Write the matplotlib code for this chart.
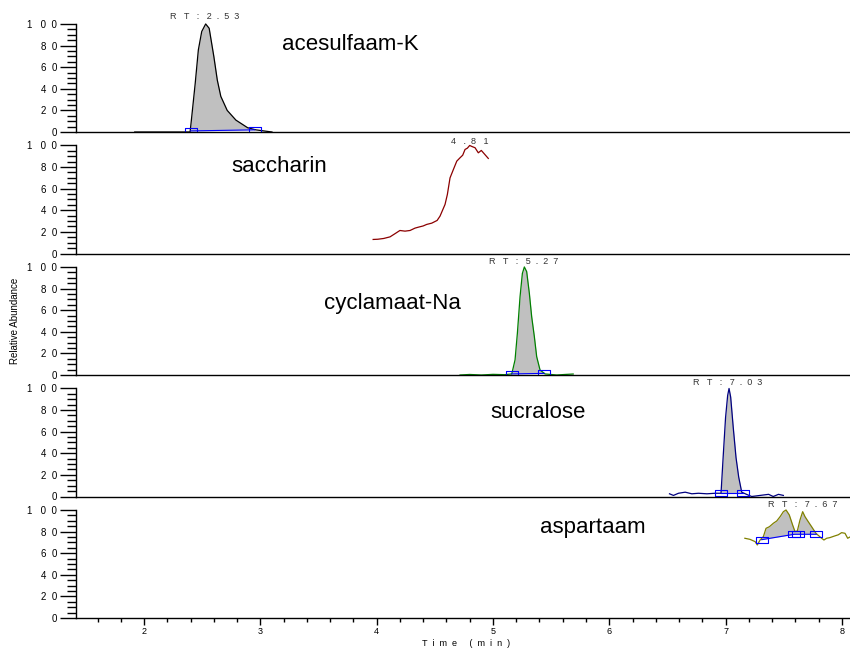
import numpy as np
import matplotlib
matplotlib.use("Agg")
import matplotlib.pyplot as plt
from matplotlib.path import Path

plt.rcParams["font.family"] = ["Liberation Sans", "DejaVu Sans"]

# ---- data (time in min, relative abundance) ----
ace_t = [1.92, 2.396, 2.41, 2.44, 2.467, 2.496, 2.53, 2.56, 2.60, 2.63, 2.66,
         2.715, 2.79, 2.89, 2.96, 3.10]
ace_v = [0, 0, 14, 45, 76, 93, 100, 96, 70, 48, 33, 20, 11, 4, 2, 0]
ace_base_t = [2.40, 2.95]
ace_base_v = [1, 2]

sac_t = [3.97, 4.01, 4.06, 4.115, 4.16, 4.20, 4.244, 4.287, 4.33, 4.36, 4.40,
         4.43, 4.474, 4.52, 4.545, 4.588, 4.608, 4.631, 4.66, 4.689, 4.717,
         4.74, 4.76, 4.78, 4.80, 4.82, 4.846, 4.874, 4.90, 4.93, 4.96]
sac_v = [13, 13.2, 13.9, 15.4, 18.5, 21.3, 20.7, 21.3, 23.5, 24.4, 25.5,
         26.9, 28.1, 30.6, 34.6, 45.4, 54.6, 70, 77.8, 85.5, 88.6,
         91, 96.3, 97.5, 100, 99, 97.9, 93.2, 95.4, 91.7, 88]

cyc_t = [4.717, 4.80, 4.90, 5.00, 5.10, 5.162, 5.19, 5.21, 5.233, 5.253, 5.27,
         5.29, 5.313, 5.333, 5.356, 5.376, 5.405, 5.448, 5.548, 5.62, 5.69]
cyc_v = [0, 0.5, 0, 0.6, 0.3, 1, 14, 38.6, 72.5, 94, 100,
         95.7, 75.6, 54, 35.5, 17, 4.6, 1, 0, 0.5, 0.9]
cyc_base_t = [5.16, 5.44]
cyc_base_v = [1, 1.5]

suc_t = [6.518, 6.552, 6.595, 6.653, 6.71, 6.767, 6.84, 6.91, 6.961, 6.981,
         7.0, 7.018, 7.03, 7.044, 7.066, 7.09, 7.113, 7.139, 7.18, 7.225,
         7.297, 7.37, 7.41, 7.455, 7.497]
suc_v = [2.5, 1, 3, 4, 2.5, 3, 2.5, 3, 3, 39.5,
         73, 93.5, 100, 92, 64, 36, 18, 4, 2, 0,
         1, 2, 0, 2, 1]
suc_base_t = [6.96, 7.15]
suc_base_v = [3, 3]

asp_t = [7.166, 7.21, 7.254, 7.273, 7.297, 7.325, 7.348, 7.377, 7.411, 7.44,
         7.469, 7.497, 7.52, 7.548, 7.577, 7.597, 7.617, 7.64, 7.663, 7.683,
         7.712, 7.74, 7.777, 7.826, 7.846, 7.869, 7.897, 7.94, 7.969, 7.998,
         8.027, 8.05, 8.07]
asp_v = [73.8, 72.8, 70.7, 67.6, 72.2, 75.3, 83, 84.5, 87.7, 89.8,
         93.8, 98.4, 100, 95.4, 86, 80, 80.5, 90.7, 98.4, 93.8,
         89, 84.5, 78.4, 73.8, 72.2, 73.8, 74.4, 76, 77, 79,
         78.4, 73.8, 75]
asp_base_t = [7.31, 7.59, 7.626, 7.78]
asp_base_v = [72.5, 77.5, 77.5, 77.5]

names = ["acesulfaam-K", "saccharin", "cyclamaat-Na", "sucralose", "aspartaam"]
rt_labels = ["R   T   :   2  .  5  3", "4   .  8   1", "R   T   :   5  .  2  7",
             "R   T   :   7  .  0  3", "R   T   :   7  .  6  7"]
rt_times = [2.52, 4.80, 5.26, 7.02, 7.66]
colors = ["black", "#8b0000", "#008000", "#000080", "#808000"]

traces = [(ace_t, ace_v, ace_base_t, ace_base_v),
          (sac_t, sac_v, None, None),
          (cyc_t, cyc_v, cyc_base_t, cyc_base_v),
          (suc_t, suc_v, suc_base_t, suc_base_v),
          (asp_t, asp_v, asp_base_t, asp_base_v)]

# layout (figure pixels)
name_xy = [(282, 45), (231, 167), (324, 304), (490, 413), (540, 527)]
rt_y = [106.5, 104, 105.5, 105.5, 105.5]

box = Path([(-1, -0.45), (1, -0.45), (1, 0.45), (-1, 0.45), (-1, -0.45)])

W, H = 850, 650
fig = plt.figure(figsize=(8.5, 6.5), dpi=100)
xl = (1.415, 8.07)

for i, (t, v, bt, bv) in enumerate(traces):
    zero_px = 132 + 121.5 * i
    ax = fig.add_axes([76 / W, 1 - zero_px / H, (W - 76) / W, 121 / H])
    t = np.array(t)
    v = np.array(v)
    if bt is not None:
        m = (t >= bt[0]) & (t <= bt[-1])
        tt = np.concatenate([[bt[0]], t[m], [bt[-1]]])
        vv = np.interp(tt, t, v)
        base = np.interp(tt, bt, bv)
        ax.fill_between(tt, base, vv, color="#c0c0c0", lw=0)
    ax.plot(t, v, color=colors[i], lw=0.9)
    if bt is not None:
        ax.plot(bt, bv, color="blue", lw=0.8)
        ax.plot(bt, bv, ls="none", marker=box, ms=9, mfc="none",
                mec="blue", mew=0.8)
    ax.text(rt_times[i], rt_y[i], rt_labels[i], ha="center", va="center",
            fontsize=6.5, color="#333333")

    ax.set_xlim(*xl)
    ax.set_ylim(0, 112)
    for s in ["top", "right"]:
        ax.spines[s].set_visible(False)
    ax.spines["left"].set_bounds(0, 100)
    ax.spines["left"].set_linewidth(1.0)
    ax.spines["bottom"].set_linewidth(1.0)
    ax.set_yticks([0, 20, 40, 60, 80, 100])
    ax.set_yticklabels(["0", "2  0", "4  0", "6  0", "8  0", "1   0  0"],
                       fontsize=7)
    ax.set_yticks(np.arange(0, 101, 5), minor=True)
    ax.tick_params(axis="y", which="major", length=11.5, width=1.0, pad=2)
    ax.tick_params(axis="y", which="minor", length=6.5, width=1.0)
    if i < 4:
        ax.set_xticks([])
    else:
        ax.set_xticks([2, 3, 4, 5, 6, 7, 8])
        ax.set_xticklabels(["2", "3", "4", "5", "6", "7", "8"], fontsize=6.5)
        ax.set_xticks(np.arange(1.6, 8.05, 0.2), minor=True)
        ax.tick_params(axis="x", which="major", length=5, width=1.0, pad=1.5)
        ax.tick_params(axis="x", which="minor", length=3, width=1.0)
    ax.patch.set_alpha(0)

for i, (x, y) in enumerate(name_xy):
    fig.text(x / W, 1 - y / H, names[i], fontsize=16, ha="left", va="center")

fig.text(466 / W, 1 - 643 / H, "T  i  m  e     (  m  i  n  )", fontsize=6.5,
         ha="center", va="center")
fig.text(15 / W, 1 - 321 / H, "Relative Abundance", rotation=90,
         fontsize=7, ha="center", va="center")

fig.savefig("out.png", dpi=100)
